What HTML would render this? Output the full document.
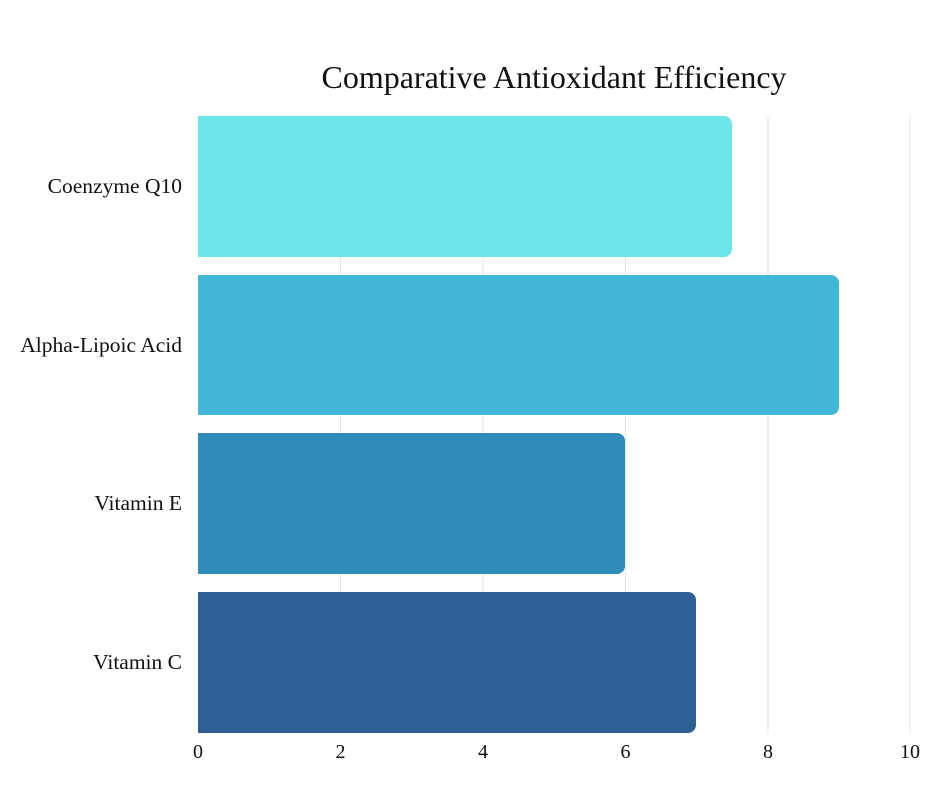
<!DOCTYPE html>
<html><head><style>body{margin:0;background:#fff}</style></head><body>
<svg width="940" height="788" xmlns="http://www.w3.org/2000/svg" font-family="'Liberation Serif', serif">
<rect width="940" height="788" fill="#fff"/>
<g stroke="#e6e6e6" stroke-width="1">
<line x1="340.5" y1="116" x2="340.5" y2="733"/>
<line x1="483" y1="116" x2="483" y2="733"/>
<line x1="625.5" y1="116" x2="625.5" y2="733"/>
<line x1="768" y1="116" x2="768" y2="733"/>
<line x1="910" y1="116" x2="910" y2="733"/>
</g>
<path d="M198 116 H724 a8 8 0 0 1 8 8 V249 a8 8 0 0 1 -8 8 H198Z" fill="#6be5e8"/>
<path d="M198 275 H831 a8 8 0 0 1 8 8 V407 a8 8 0 0 1 -8 8 H198Z" fill="#42b7d5"/>
<path d="M198 433 H617 a8 8 0 0 1 8 8 V566 a8 8 0 0 1 -8 8 H198Z" fill="#2e8bba"/>
<path d="M198 592 H688 a8 8 0 0 1 8 8 V725 a8 8 0 0 1 -8 8 H198Z" fill="#2e6096"/>
<text x="554" y="88" font-size="32" text-anchor="middle" fill="#111">Comparative Antioxidant Efficiency</text>
<g font-size="21.5" text-anchor="end" fill="#111">
<text x="182" y="193">Coenzyme Q10</text>
<text x="182" y="352">Alpha-Lipoic Acid</text>
<text x="182" y="510">Vitamin E</text>
<text x="182" y="669">Vitamin C</text>
</g>
<g font-size="20" text-anchor="middle" fill="#111">
<text x="198" y="758">0</text>
<text x="340.5" y="758">2</text>
<text x="483" y="758">4</text>
<text x="625.5" y="758">6</text>
<text x="768" y="758">8</text>
<text x="910" y="758">10</text>
</g>
</svg>
</body></html>
